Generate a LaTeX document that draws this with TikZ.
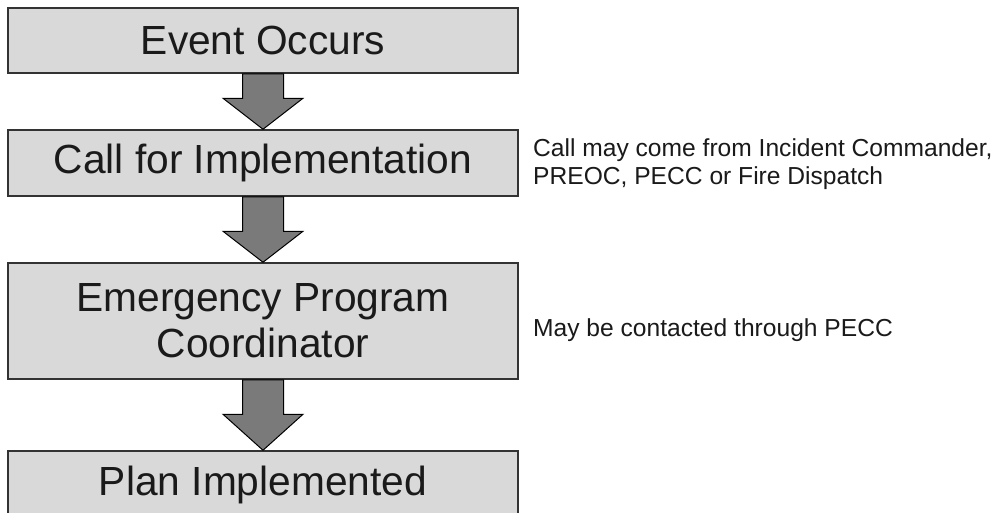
\documentclass[tikz,border=0pt]{standalone}
\usepackage{fontspec}
\setmainfont{Liberation Sans}
\usetikzlibrary{calc}
\definecolor{boxfill}{HTML}{D9D9D9}
\definecolor{boxline}{HTML}{333333}
\definecolor{arrfill}{HTML}{7A7A7A}
\definecolor{txt}{HTML}{1A1A1A}
\begin{document}
\begin{tikzpicture}[x=1pt,y=-1pt,
  stage/.style={draw=boxline, line width=1.5pt, fill=boxfill, minimum width=510pt,
    align=center, inner sep=0pt, text=txt, font=\fontsize{40.7}{46}\selectfont},
  note/.style={anchor=west, align=left, inner sep=0pt, text=txt, font=\fontsize{24.6}{28}\selectfont},
  flowarr/.style={draw=black, line width=1pt, fill=arrfill, line join=miter}]
\useasboundingbox (0,0) rectangle (999,512);
\fill[white] (0,0) rectangle (999,512);
\node[stage, minimum height=65pt] (e) at (263,40.5) {Event Occurs};
\node[stage, minimum height=66pt] (c) at (263,163) {Call for Implementation};
\node[stage, minimum height=116pt] (p) at (263,321) {Emergency Program\\Coordinator};
\node[stage, minimum height=67pt] (i) at (263,484.5) {Plan Implemented};
\foreach \a/\b/\h in {e/c/31, c/p/31, p/i/36}{
  \draw[flowarr] ($(\a.south)+(-20.5,0)$) -- ($(\b.north)+(-20.5,-\h)$)
    -- ($(\b.north)+(-40,-\h)$) -- (\b.north) -- ($(\b.north)+(40,-\h)$)
    -- ($(\b.north)+(20.5,-\h)$) -- ($(\a.south)+(20.5,0)$) -- cycle;
}
\node[note] (n1) at (533,164) {Call may come from Incident Commander,\\PREOC, PECC or Fire Dispatch};
\node[note] (n2) at (533,330) {May be contacted through PECC};
\end{tikzpicture}
\end{document}
